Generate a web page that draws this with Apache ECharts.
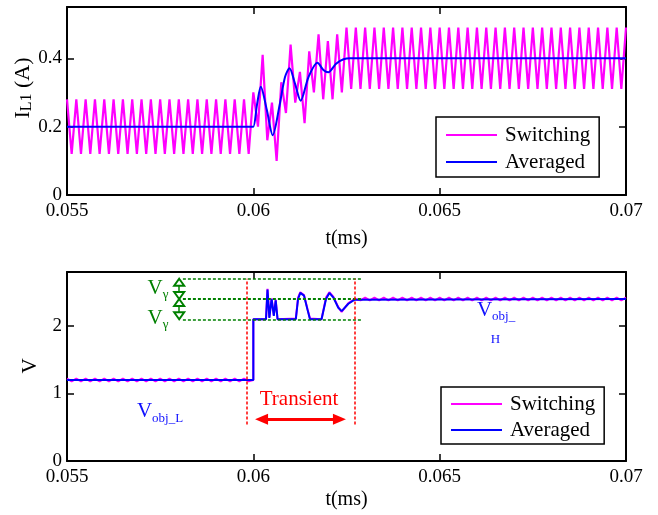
<!DOCTYPE html>
<html>
<head>
<meta charset="utf-8">
<script src="https://cdn.jsdelivr.net/npm/echarts@6/dist/echarts.min.js"></script>
<style>
  html, body { margin: 0; padding: 0; background: #fff; }
  #main { width: 658px; height: 515px; }
</style>
</head>
<body>
<div id="main"></div>
<script>
// ---------------- data ----------------
var serif = "'Liberation Serif', 'Times New Roman', serif";

// switching waveforms are sampled every half switching period from t = 0.055
var sampleStart = 0.055;
var sampleStep = 0.000125;

// top plot: inductor current I_L1 (A)
var iSwitching = [
  0.28, 0.12, 0.28, 0.12, 0.28, 0.12, 0.28, 0.12, 0.28, 0.12,
  0.28, 0.12, 0.28, 0.12, 0.28, 0.12, 0.28, 0.12, 0.28, 0.12,
  0.28, 0.12, 0.28, 0.12, 0.28, 0.12, 0.28, 0.12, 0.28, 0.12,
  0.28, 0.12, 0.28, 0.12, 0.28, 0.12, 0.28, 0.12, 0.28, 0.12,
  0.30, 0.20, 0.41, 0.16, 0.27, 0.10, 0.33, 0.24, 0.44, 0.27,
  0.36, 0.21, 0.42, 0.30, 0.47, 0.28, 0.45, 0.28, 0.47, 0.30,
  0.49, 0.31, 0.49, 0.31, 0.49, 0.31, 0.49, 0.31, 0.49, 0.31,
  0.49, 0.31, 0.49, 0.31, 0.49, 0.31, 0.49, 0.31, 0.49, 0.31,
  0.49, 0.31, 0.49, 0.31, 0.49, 0.31, 0.49, 0.31, 0.49, 0.31,
  0.49, 0.31, 0.49, 0.31, 0.49, 0.31, 0.49, 0.31, 0.49, 0.31,
  0.49, 0.31, 0.49, 0.31, 0.49, 0.31, 0.49, 0.31, 0.49, 0.31,
  0.49, 0.31, 0.49, 0.31, 0.49, 0.31, 0.49, 0.31, 0.49, 0.31,
  0.49
];
var iAvgT = [0.055, 0.05995, 0.06, 0.0601, 0.0602, 0.06036, 0.06052, 0.0607, 0.06085, 0.06097,
             0.06112, 0.06127, 0.06148, 0.06172, 0.06188, 0.06201, 0.06222, 0.06242, 0.0626, 0.07];
var iAvg  = [0.2, 0.2, 0.2, 0.265, 0.317, 0.25, 0.175, 0.26, 0.345, 0.371,
             0.325, 0.276, 0.345, 0.387, 0.366, 0.359, 0.384, 0.397, 0.4, 0.4];

// bottom plot: voltage V
var vSwitchingLow = [            // samples 0..40
  1.22, 1.18, 1.22, 1.18, 1.22, 1.18, 1.22, 1.18, 1.22, 1.18,
  1.22, 1.18, 1.22, 1.18, 1.22, 1.18, 1.22, 1.18, 1.22, 1.18,
  1.22, 1.18, 1.22, 1.18, 1.22, 1.18, 1.22, 1.18, 1.22, 1.18,
  1.22, 1.18, 1.22, 1.18, 1.22, 1.18, 1.22, 1.18, 1.22, 1.18,
  1.2
];
var vSwitchingTransT = [0.06, 0.06034, 0.06038, 0.06043, 0.06049, 0.06055, 0.0606, 0.06065, 0.06114, 0.0612,
                        0.06126, 0.06136, 0.06145, 0.06152, 0.06183, 0.06195, 0.06204, 0.06215, 0.06228, 0.06237,
                        0.06255, 0.06272, 0.06277];
var vSwitchingTrans  = [2.1, 2.1, 2.55, 2.13, 2.41, 2.16, 2.39, 2.1, 2.11, 2.42,
                        2.5, 2.46, 2.26, 2.11, 2.1, 2.42, 2.5, 2.43, 2.28, 2.21,
                        2.34, 2.4, 2.41];
var vSwitchingHigh = [           // samples 63..120
  2.38, 2.42, 2.38, 2.42, 2.38, 2.42, 2.38, 2.42, 2.38, 2.42,
  2.38, 2.42, 2.38, 2.42, 2.38, 2.42, 2.38, 2.42, 2.38, 2.42,
  2.38, 2.42, 2.38, 2.42, 2.38, 2.42, 2.38, 2.42, 2.38, 2.42,
  2.38, 2.42, 2.38, 2.42, 2.38, 2.42, 2.38, 2.42, 2.38, 2.42,
  2.38, 2.42, 2.38, 2.42, 2.38, 2.42, 2.38, 2.42, 2.38, 2.42,
  2.38, 2.42, 2.38, 2.42, 2.38, 2.42, 2.38, 2.42
];
var vAvgT = [0.055, 0.06, 0.06, 0.06034, 0.06038, 0.06043, 0.06049, 0.06055, 0.0606, 0.06065,
             0.06114, 0.0612, 0.06126, 0.06136, 0.06145, 0.06152, 0.06183, 0.06195, 0.06204, 0.06215,
             0.06228, 0.06237, 0.06255, 0.06272, 0.06277, 0.07];
var vAvg  = [1.2, 1.2, 2.1, 2.1, 2.54, 2.12, 2.4, 2.15, 2.38, 2.1,
             2.1, 2.4, 2.49, 2.45, 2.25, 2.1, 2.1, 2.4, 2.49, 2.42,
             2.27, 2.22, 2.33, 2.39, 2.4, 2.4];

// annotations (data coordinates)
var gammaLevels = [2.1, 2.4, 2.7];
var gammaSpan = [0.05811, 0.06292];
var gammaArrowT = 0.05801;
var transientEdges = [0.05982, 0.06273];
var transientRange = [0.54, 2.7];
var transientArrow = [0.06022, 0.06231, 0.62];

// ---------------- helpers ----------------
function samples(vals, first) {
  return vals.map(function (v, k) { return [sampleStart + (first + k) * sampleStep, v]; });
}
function pairs(ts, vs) {
  return ts.map(function (t, k) { return [t, vs[k]]; });
}

var chart = echarts.init(document.getElementById('main'));

function xAxisFor(grid, bottom, nameGap) {
  return {
    type: 'value', gridIndex: grid, position: bottom ? 'bottom' : 'top',
    min: 0.055, max: 0.07, interval: 0.005,
    axisLine: { show: true, onZero: false, lineStyle: { color: '#000', width: 2 } },
    axisTick: { show: true, inside: true, length: 7, lineStyle: { color: '#000', width: 1.5 } },
    axisLabel: { show: bottom, color: '#000', fontFamily: serif, fontSize: 19, margin: 7 },
    splitLine: { show: false },
    name: bottom ? 't(ms)' : '', nameLocation: 'middle', nameGap: nameGap,
    nameTextStyle: { color: '#000', fontFamily: serif, fontSize: 20 }
  };
}
function yAxisFor(grid, left, max, interval) {
  return {
    type: 'value', gridIndex: grid, position: left ? 'left' : 'right',
    min: 0, max: max, interval: interval,
    axisLine: { show: true, onZero: false, lineStyle: { color: '#000', width: 2 } },
    axisTick: { show: true, inside: true, length: 7, lineStyle: { color: '#000', width: 1.5 } },
    axisLabel: { show: left, showMaxLabel: false, color: '#000', fontFamily: serif, fontSize: 19, margin: 5 },
    splitLine: { show: false }
  };
}
function legendAt(left, top, padding, gap) {
  return {
    data: ['Switching', 'Averaged'], orient: 'vertical', left: left, top: top,
    padding: padding, itemGap: gap, itemWidth: 51, itemHeight: 2, icon: 'rect',
    borderColor: '#000', borderWidth: 1.5, backgroundColor: '#fff', selectedMode: false,
    textStyle: { fontFamily: serif, fontSize: 21, color: '#000', lineHeight: 22, padding: [0, 0, 0, 3] }
  };
}

var green = '#008000', red = '#ff0000', blueText = '#1010ff';

var markLines = [];
gammaLevels.forEach(function (lv, k) {
  markLines.push([
    { coord: [gammaSpan[0], lv], lineStyle: { color: green, width: k === 1 ? 2 : 1.5, type: [3, 2] } },
    { coord: [gammaSpan[1], lv] }
  ]);
});
transientEdges.forEach(function (t) {
  markLines.push([
    { coord: [t, transientRange[0]], lineStyle: { color: red, width: 1.5, type: [3, 2] } },
    { coord: [t, transientRange[1]] }
  ]);
});
// green double arrows (open heads)
[[gammaLevels[1], gammaLevels[2]], [gammaLevels[0], gammaLevels[1]]].forEach(function (pr) {
  markLines.push([
    { coord: [gammaArrowT, pr[0] + 0.052], symbol: 'emptyTriangle', symbolSize: [10, 7],
      lineStyle: { color: green, width: 1.5, type: 'solid' } },
    { coord: [gammaArrowT, pr[1] - 0.052], symbol: 'emptyTriangle', symbolSize: [10, 7] }
  ]);
});
// red transient arrow
markLines.push([
  { coord: [transientArrow[0], transientArrow[2]], symbol: 'triangle', symbolSize: [11, 13],
    lineStyle: { color: red, width: 3, type: 'solid' } },
  { coord: [transientArrow[1], transientArrow[2]], symbol: 'triangle', symbolSize: [11, 13] }
]);

function note(t, v, text, rich) {
  return { coord: [t, v], label: { show: true, position: 'inside', formatter: text, rich: rich } };
}
var gammaRich = {
  v: { fontFamily: serif, fontSize: 21, lineHeight: 26, color: green },
  s: { fontFamily: serif, fontSize: 13, lineHeight: 12, verticalAlign: 'bottom', color: green }
};
var objRich = {
  v: { fontFamily: serif, fontSize: 21, lineHeight: 26, color: blueText },
  s: { fontFamily: serif, fontSize: 13, lineHeight: 12, verticalAlign: 'bottom', color: blueText },
  h: { fontFamily: serif, fontSize: 13, lineHeight: 14, color: blueText }
};

var option = {
  animation: false,
  backgroundColor: '#fff',
  grid: [
    { left: 67, right: 32, top: 7, height: 188, show: false },
    { left: 67, right: 32, top: 272, height: 189, show: false }
  ],
  xAxis: [xAxisFor(0, true, 34), xAxisFor(0, false, 0), xAxisFor(1, true, 29), xAxisFor(1, false, 0)],
  yAxis: [yAxisFor(0, true, 0.55, 0.2), yAxisFor(0, false, 0.55, 0.2), yAxisFor(1, true, 2.8, 1), yAxisFor(1, false, 2.8, 1)],
  legend: [legendAt(436, 117, [7, 9, 4, 10], 5), legendAt(441, 387, [6, 9, 3, 10], 4)],
  graphic: [
    { type: 'text', x: 23, y: 88, rotation: Math.PI / 2,
      style: { text: '{a|I}{b|L1}{a| (A)}', align: 'center', verticalAlign: 'middle',
        rich: { a: { fontFamily: serif, fontSize: 22, lineHeight: 24, fill: '#000' },
                b: { fontFamily: serif, fontSize: 16, lineHeight: 10, verticalAlign: 'bottom', fill: '#000' } } } },
    { type: 'text', x: 30, y: 366, rotation: Math.PI / 2,
      style: { text: 'V', fontFamily: serif, fontSize: 21, fill: '#000', align: 'center', verticalAlign: 'middle' } }
  ],
  series: [
    { name: 'Switching', type: 'line', xAxisIndex: 0, yAxisIndex: 0, data: samples(iSwitching, 0),
      showSymbol: false, color: '#ff00ff', lineStyle: { color: '#ff00ff', width: 2.2 } },
    { name: 'Averaged', type: 'line', xAxisIndex: 0, yAxisIndex: 0, data: pairs(iAvgT, iAvg),
      showSymbol: false, smooth: 0.3, color: '#0000ff', lineStyle: { color: '#0000ff', width: 2 } },
    { name: 'Switching', type: 'line', xAxisIndex: 2, yAxisIndex: 2,
      data: samples(vSwitchingLow, 0).concat(pairs(vSwitchingTransT, vSwitchingTrans), samples(vSwitchingHigh, 63)),
      showSymbol: false, color: '#ff00ff', lineStyle: { color: '#ff00ff', width: 2 } },
    { name: 'Averaged', type: 'line', xAxisIndex: 2, yAxisIndex: 2, data: pairs(vAvgT, vAvg),
      showSymbol: false, color: '#0000ff', lineStyle: { color: '#0000ff', width: 2 } },
    { name: 'annotations', type: 'line', xAxisIndex: 2, yAxisIndex: 2, data: [],
      markLine: { silent: true, animation: false, symbol: ['none', 'none'], label: { show: false }, data: markLines },
      markPoint: { silent: true, animation: false, symbol: 'circle', symbolSize: 1,
        itemStyle: { color: 'rgba(0,0,0,0)' },
        data: [
          note(0.057442, 2.556, '{v|V}{s|γ}', gammaRich),
          note(0.057442, 2.11, '{v|V}{s|γ}', gammaRich),
          note(0.061227, 0.906, 'Transient', null),
          note(0.057496, 0.728, '{v|V}{s|obj_L}', objRich),
          note(0.066514, 2.23, '{v|V}{s|obj_}', objRich),
          note(0.0665, 1.798, '{h|H}', objRich)
        ] } }
  ]
};
// style for the "Transient" label
option.series[4].markPoint.data[2].label.color = red;
option.series[4].markPoint.data[2].label.fontFamily = serif;
option.series[4].markPoint.data[2].label.fontSize = 21;

chart.setOption(option);
</script>
</body>
</html>
